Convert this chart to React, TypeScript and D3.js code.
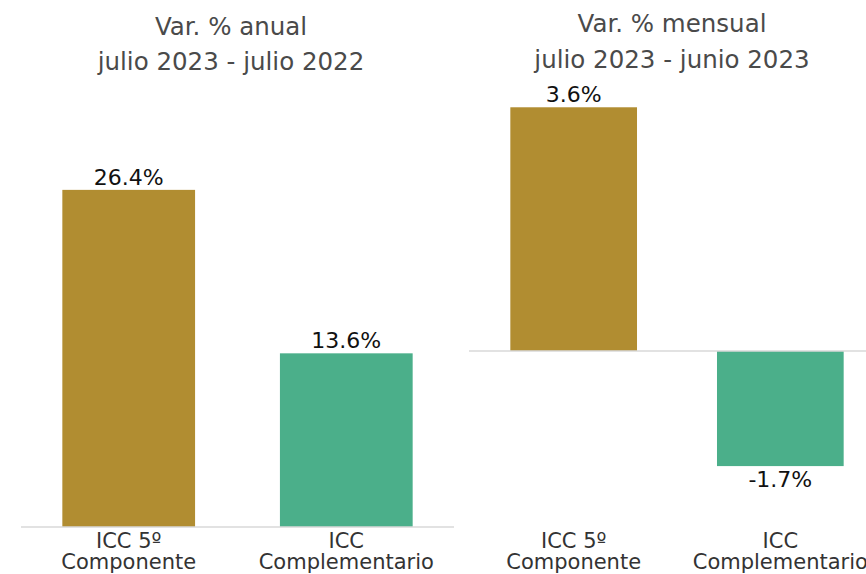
import React from "react";
import * as d3 from "d3";

const categories = ["ICC 5º|Componente", "ICC|Complementario"];
const annualValues = [26.4, 13.6];
const monthlyValues = [3.6, -1.7];
const annualTitle = ["Var. % anual", "julio 2023 - julio 2022"];
const monthlyTitle = ["Var. % mensual", "julio 2023 - junio 2023"];
const barColors = ["#B18D31", "#4BAF8A"];

const W = 866;
const H = 574;
const FONT = "'DejaVu Sans', sans-serif";

type PanelProps = {
  values: number[];
  title: string[];
  titleX: number;
  titleY: number[];
  xRange: [number, number];
  lineRange: [number, number];
  yDomain: [number, number];
  yRange: [number, number];
  pInner: number;
  pOuter: number;
};

function Panel(p: PanelProps) {
  const x = d3
    .scaleBand<string>()
    .domain(categories)
    .range(p.xRange)
    .paddingInner(p.pInner)
    .paddingOuter(p.pOuter);
  const y = d3.scaleLinear().domain(p.yDomain).range(p.yRange);
  const y0 = y(0);
  return (
    <g>
      {p.title.map((t, i) => (
        <text
          key={t}
          x={p.titleX}
          y={p.titleY[i]}
          textAnchor="middle"
          fontFamily={FONT}
          fontSize={24.5}
          fill="#4a4a4a"
        >
          {t}
        </text>
      ))}
      {categories.map((c, i) => {
        const v = p.values[i];
        const bx = x(c) as number;
        const top = Math.min(y(v), y0);
        const h = Math.abs(y(v) - y0);
        return (
          <g key={c}>
            <rect x={bx} y={top} width={x.bandwidth()} height={h} fill={barColors[i]} />
            <text
              x={bx + x.bandwidth() / 2}
              y={v >= 0 ? y(v) - 5 : y(v) + 21}
              textAnchor="middle"
              fontFamily={FONT}
              fontSize={22}
              fill="#111"
            >
              {v.toFixed(1) + "%"}
            </text>
          </g>
        );
      })}
      <line x1={p.lineRange[0]} x2={p.lineRange[1]} y1={y0} y2={y0} stroke="#d9d9d9" strokeWidth={1.5} />
      {categories.map((c) => {
        const cx = (x(c) as number) + x.bandwidth() / 2;
        return c.split("|").map((ln, j) => (
          <text
            key={c + j}
            x={cx}
            y={548 + j * 21}
            textAnchor="middle"
            fontFamily={FONT}
            fontSize={21}
            fill="#333"
          >
            {ln}
          </text>
        ));
      })}
    </g>
  );
}

export default function App() {
  return (
    <svg
      width={W}
      height={H}
      style={{ position: "absolute", left: 0, top: 0, background: "#fff" }}
    >
      <rect width={W} height={H} fill="#fff" />
      <Panel
        values={annualValues}
        title={annualTitle}
        titleX={231}
        titleY={[35, 70]}
        xRange={[21, 454]}
        lineRange={[21, 454]}
        yDomain={[0, 30]}
        yRange={[527, 527 - 30 * 12.77]}
        pInner={0.39}
        pOuter={0.19}
      />
      <Panel
        values={monthlyValues}
        title={monthlyTitle}
        titleX={672}
        titleY={[32, 68]}
        xRange={[469, 885]}
        lineRange={[469, 866]}
        yDomain={[-2.5, 4]}
        yRange={[351 + 2.5 * 67.7, 351 - 4 * 67.7]}
        pInner={0.387}
        pOuter={0.2}
      />
    </svg>
  );
}
